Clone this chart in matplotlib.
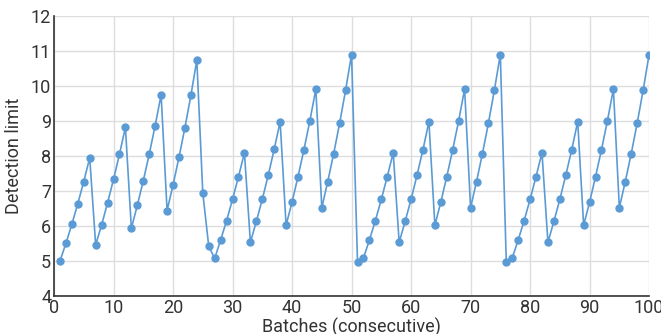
import matplotlib
matplotlib.use("Agg")
from matplotlib import pyplot as plt

# batch numbers and detection limit
batches = list(range(1, 101))
detection = [
    5.00, 5.50, 6.05, 6.64, 7.27, 7.95,
    5.46, 6.03, 6.66, 7.33, 8.05, 8.82,
    5.93, 6.59, 7.29, 8.05, 8.87, 9.75,
    6.44, 7.17, 7.96, 8.81, 9.73, 10.74,
    6.95, 5.42, 5.07, 5.60, 6.15, 6.76, 7.41, 8.09,
    5.53, 6.13, 6.76, 7.45, 8.19, 8.98,
    6.02, 6.68, 7.41, 8.18, 9.01, 9.91,
    6.52, 7.27, 8.07, 8.94, 9.88, 10.90,
    4.98, 5.08, 5.60, 6.15, 6.76, 7.41, 8.09,
    5.53, 6.13, 6.76, 7.45, 8.18, 8.98,
    6.02, 6.68, 7.41, 8.18, 9.01, 9.91,
    6.52, 7.27, 8.07, 8.94, 9.88, 10.90,
    4.98, 5.08, 5.60, 6.15, 6.76, 7.41, 8.09,
    5.53, 6.13, 6.76, 7.45, 8.18, 8.98,
    6.02, 6.68, 7.41, 8.18, 9.01, 9.91,
    6.52, 7.27, 8.07, 8.94, 9.88, 10.90,
]
xticks = list(range(0, 101, 10))
yticks = list(range(4, 13))

plt.rcParams['font.family'] = ['Roboto', 'DejaVu Sans']

fig = plt.figure(figsize=(6.61, 3.34), dpi=100)
ax = fig.add_axes([0.0817, 0.114, 0.9003, 0.838])

blue = '#5b9bd5'
ax.plot(batches, detection, color=blue, linewidth=1.2, marker='o',
        markersize=5, zorder=3)

ax.set_xlim(0, 100)
ax.set_ylim(4, 12)
ax.set_xticks(xticks)
ax.set_yticks(yticks)
ax.grid(True, color='#dddddd', linewidth=1)
ax.set_axisbelow(True)

for side in ['top', 'right']:
    ax.spines[side].set_visible(False)
for side in ['left', 'bottom']:
    ax.spines[side].set_color('#333333')
    ax.spines[side].set_linewidth(1.2)

ax.tick_params(length=0, labelsize=13, colors='#333333', pad=2)
ax.set_xlabel('Batches (consecutive)', fontsize=13, color='#333333', labelpad=1)
ax.set_ylabel('Detection limit', fontsize=13, color='#333333', labelpad=6)

fig.savefig('out.png', dpi=100)
